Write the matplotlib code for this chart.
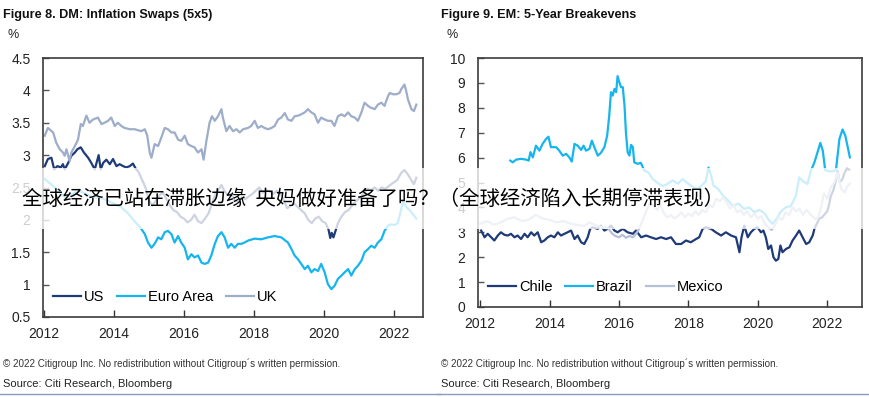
import matplotlib
matplotlib.use('Agg')
import matplotlib.pyplot as plt
from matplotlib.patches import Rectangle
from matplotlib.lines import Line2D

plt.rcParams['font.family'] = ['Liberation Sans', 'DejaVu Sans']

# ---- Figure 8: DM inflation swaps (5x5), fractional years ----
us_t = [2012.02, 2012.11, 2012.21, 2012.29, 2012.38, 2012.48, 2012.54, 2012.59, 2012.69, 2012.78,
        2012.88, 2012.95, 2013.05, 2013.14, 2013.26, 2013.35, 2013.45, 2013.56, 2013.62, 2013.69,
        2013.78, 2013.88, 2013.97, 2014.07, 2014.16, 2014.26, 2014.35, 2014.45, 2014.54, 2014.62,
        2014.70, 2014.80, 2014.90, 2015.00, 2015.10, 2015.20, 2015.30, 2015.40, 2015.50, 2015.60,
        2015.70, 2015.80, 2015.90, 2016.00, 2016.10, 2016.20, 2016.30, 2016.40, 2016.50, 2016.60,
        2016.70, 2016.80, 2016.90, 2017.00, 2017.07, 2017.15, 2017.25, 2017.35, 2017.45, 2017.55,
        2017.65, 2017.75, 2017.85, 2017.95, 2018.05, 2018.15, 2018.25, 2018.35, 2018.45, 2018.55,
        2018.65, 2018.75, 2018.85, 2018.95, 2019.05, 2019.15, 2019.25, 2019.35, 2019.45, 2019.55,
        2019.65, 2019.75, 2019.85, 2019.95, 2020.05, 2020.13, 2020.18, 2020.22, 2020.27, 2020.33,
        2020.40, 2020.50, 2020.60, 2020.70, 2020.80, 2020.90, 2021.00, 2021.07, 2021.15, 2021.25,
        2021.35, 2021.45, 2021.55, 2021.65, 2021.75, 2021.83, 2021.92, 2022.00, 2022.10, 2022.20,
        2022.30, 2022.40, 2022.50, 2022.57, 2022.64]
us_v = [2.83, 2.94, 2.96, 2.78, 2.83, 2.81, 2.86, 2.78, 2.88, 2.99,
        3.04, 3.09, 3.12, 3.04, 2.96, 2.88, 2.78, 3.00, 2.78, 2.88,
        2.93, 2.86, 2.94, 2.83, 2.86, 2.83, 2.81, 2.83, 2.87, 2.79,
        2.74, 2.62, 2.50, 2.30, 2.22, 2.30, 2.38, 2.42, 2.32, 2.22,
        2.15, 2.12, 2.05, 2.02, 1.96, 2.00, 2.08, 1.98, 1.95, 2.02,
        2.10, 2.25, 2.40, 2.48, 2.54, 2.45, 2.38, 2.40, 2.30, 2.28,
        2.35, 2.32, 2.36, 2.40, 2.45, 2.50, 2.42, 2.46, 2.44, 2.40,
        2.45, 2.42, 2.30, 2.18, 2.22, 2.25, 2.20, 2.15, 2.10, 2.00,
        1.95, 2.02, 2.05, 1.98, 1.95, 1.85, 1.72, 1.80, 1.73, 1.83,
        1.95, 2.05, 2.12, 2.15, 2.22, 2.28, 2.33, 2.36, 2.42, 2.48,
        2.46, 2.50, 2.45, 2.50, 2.48, 2.51, 2.55, 2.58, 2.62, 2.72,
        2.77, 2.70, 2.61, 2.55, 2.65]

ea_t = [2012.02, 2012.20, 2012.40, 2012.60, 2012.80, 2013.00, 2013.20, 2013.40, 2013.60, 2013.80,
        2014.00, 2014.20, 2014.40, 2014.60, 2014.78, 2014.88, 2014.97, 2015.07, 2015.16, 2015.26,
        2015.35, 2015.45, 2015.54, 2015.64, 2015.73, 2015.83, 2015.92, 2016.02, 2016.11, 2016.21,
        2016.30, 2016.40, 2016.50, 2016.59, 2016.69, 2016.78, 2016.88, 2016.97, 2017.07, 2017.16,
        2017.26, 2017.35, 2017.45, 2017.54, 2017.64, 2017.73, 2017.83, 2018.02, 2018.21, 2018.40,
        2018.59, 2018.78, 2018.97, 2019.07, 2019.16, 2019.26, 2019.35, 2019.45, 2019.54, 2019.64,
        2019.73, 2019.83, 2019.92, 2020.02, 2020.11, 2020.21, 2020.30, 2020.40, 2020.50, 2020.59,
        2020.69, 2020.78, 2020.88, 2020.97, 2021.07, 2021.16, 2021.26, 2021.35, 2021.45, 2021.54,
        2021.64, 2021.73, 2021.83, 2021.92, 2022.02, 2022.11, 2022.20, 2022.26, 2022.35, 2022.45,
        2022.55, 2022.64]
ea_v = [2.63, 2.55, 2.45, 2.35, 2.40, 2.45, 2.40, 2.35, 2.35, 2.30,
        2.25, 2.20, 2.10, 1.97, 1.86, 1.78, 1.65, 1.57, 1.63, 1.73,
        1.70, 1.81, 1.83, 1.78, 1.65, 1.75, 1.65, 1.57, 1.39, 1.47,
        1.42, 1.45, 1.34, 1.32, 1.34, 1.45, 1.63, 1.75, 1.81, 1.73,
        1.57, 1.63, 1.57, 1.63, 1.63, 1.65, 1.68, 1.71, 1.70, 1.73,
        1.75, 1.73, 1.65, 1.55, 1.45, 1.39, 1.32, 1.24, 1.29, 1.19,
        1.24, 1.21, 1.32, 1.19, 1.01, 0.93, 0.98, 1.09, 1.14, 1.19,
        1.24, 1.14, 1.24, 1.29, 1.37, 1.50, 1.55, 1.60, 1.57, 1.65,
        1.70, 1.83, 1.91, 1.93, 1.92, 1.95, 2.15, 2.28, 2.20, 2.15,
        2.08, 2.02]

uk_t = [2012.02, 2012.11, 2012.26, 2012.35, 2012.45, 2012.54, 2012.59, 2012.64, 2012.73, 2012.78,
        2012.88, 2012.97, 2013.05, 2013.11, 2013.21, 2013.30, 2013.40, 2013.54, 2013.64, 2013.73,
        2013.83, 2013.92, 2014.02, 2014.11, 2014.21, 2014.30, 2014.45, 2014.59, 2014.78, 2014.88,
        2014.95, 2015.02, 2015.07, 2015.16, 2015.26, 2015.35, 2015.45, 2015.54, 2015.64, 2015.73,
        2015.83, 2015.92, 2016.02, 2016.11, 2016.21, 2016.30, 2016.40, 2016.50, 2016.56, 2016.64,
        2016.73, 2016.80, 2016.88, 2016.97, 2017.07, 2017.11, 2017.21, 2017.30, 2017.40, 2017.50,
        2017.59, 2017.69, 2017.83, 2017.92, 2018.02, 2018.11, 2018.21, 2018.30, 2018.40, 2018.50,
        2018.59, 2018.69, 2018.78, 2018.88, 2018.97, 2019.07, 2019.16, 2019.26, 2019.35, 2019.45,
        2019.54, 2019.64, 2019.73, 2019.83, 2019.92, 2020.02, 2020.11, 2020.21, 2020.30, 2020.40,
        2020.50, 2020.59, 2020.69, 2020.78, 2020.88, 2020.97, 2021.07, 2021.16, 2021.26, 2021.35,
        2021.45, 2021.54, 2021.64, 2021.73, 2021.83, 2021.88, 2021.97, 2022.07, 2022.16, 2022.21,
        2022.30, 2022.35, 2022.40, 2022.50, 2022.57, 2022.64]
uk_v = [3.30, 3.42, 3.35, 3.19, 3.09, 3.04, 2.99, 3.09, 2.91, 3.04,
        3.14, 3.24, 3.48, 3.45, 3.61, 3.50, 3.55, 3.58, 3.48, 3.50,
        3.53, 3.58, 3.45, 3.50, 3.45, 3.42, 3.40, 3.40, 3.37, 3.40,
        3.30, 3.04, 2.96, 3.17, 3.14, 3.27, 3.42, 3.40, 3.35, 3.35,
        3.24, 3.22, 3.30, 3.17, 3.14, 3.12, 3.04, 3.09, 2.93, 3.22,
        3.50, 3.60, 3.53, 3.60, 3.71, 3.58, 3.37, 3.45, 3.37, 3.40,
        3.35, 3.40, 3.42, 3.45, 3.53, 3.42, 3.45, 3.42, 3.40, 3.42,
        3.45, 3.55, 3.58, 3.65, 3.55, 3.53, 3.60, 3.61, 3.63, 3.66,
        3.71, 3.66, 3.63, 3.50, 3.58, 3.55, 3.53, 3.53, 3.45, 3.60,
        3.63, 3.60, 3.66, 3.60, 3.58, 3.53, 3.66, 3.81, 3.76, 3.73,
        3.71, 3.78, 3.81, 3.76, 3.91, 3.96, 3.94, 3.94, 3.96, 4.02,
        4.09, 3.99, 3.86, 3.71, 3.68, 3.78]

# ---- Figure 9: EM 5-year breakevens ----
cl_t = [2012.03, 2012.13, 2012.22, 2012.32, 2012.41, 2012.51, 2012.60, 2012.70, 2012.80, 2012.89,
        2012.99, 2013.08, 2013.18, 2013.28, 2013.37, 2013.47, 2013.56, 2013.66, 2013.76, 2013.85,
        2013.95, 2014.04, 2014.14, 2014.24, 2014.33, 2014.43, 2014.52, 2014.62, 2014.72, 2014.81,
        2014.91, 2015.00, 2015.10, 2015.17, 2015.24, 2015.39, 2015.48, 2015.58, 2015.68, 2015.77,
        2015.87, 2015.96, 2016.11, 2016.25, 2016.40, 2016.49, 2016.64, 2016.78, 2016.92, 2017.07,
        2017.21, 2017.36, 2017.50, 2017.64, 2017.79, 2017.93, 2018.07, 2018.22, 2018.31, 2018.41,
        2018.50, 2018.65, 2018.79, 2018.94, 2019.08, 2019.23, 2019.37, 2019.47, 2019.53, 2019.61,
        2019.71, 2019.80, 2019.90, 2019.99, 2020.09, 2020.16, 2020.23, 2020.30, 2020.38, 2020.45,
        2020.52, 2020.59, 2020.65, 2020.71, 2020.81, 2020.91, 2021.00, 2021.10, 2021.19, 2021.29,
        2021.39, 2021.48, 2021.58, 2021.63, 2021.70, 2021.77, 2021.85, 2021.91, 2022.00, 2022.05,
        2022.10, 2022.18, 2022.25, 2022.30, 2022.36, 2022.44, 2022.50, 2022.56, 2022.63]
cl_v = [3.07, 2.80, 2.94, 2.80, 2.67, 2.87, 3.00, 2.90, 2.87, 2.94,
        2.80, 2.87, 2.73, 2.94, 2.80, 3.00, 2.87, 3.00, 2.60, 2.67,
        2.80, 2.87, 2.80, 3.00, 2.87, 2.94, 3.00, 3.07, 2.73, 2.87,
        2.60, 2.53, 2.80, 3.14, 3.20, 3.14, 3.27, 3.07, 3.14, 3.27,
        3.07, 3.00, 3.14, 3.00, 2.94, 3.07, 2.80, 2.87, 2.80, 2.73,
        2.80, 2.73, 2.80, 2.53, 2.53, 2.67, 2.60, 2.73, 2.80, 3.14,
        3.20, 3.14, 3.00, 2.87, 3.00, 2.87, 2.80, 2.20, 2.80, 3.27,
        2.80, 3.00, 3.14, 3.20, 3.00, 3.07, 2.80, 2.33, 2.47, 2.00,
        1.86, 1.93, 2.47, 2.20, 2.33, 2.40, 2.67, 2.87, 3.07, 2.80,
        2.53, 2.60, 2.87, 3.14, 3.35, 3.55, 3.60, 3.70, 3.85, 4.10,
        4.45, 4.70, 5.10, 5.45, 5.00, 5.15, 5.40, 5.55, 5.52]

br_t = [2012.87, 2012.94, 2013.04, 2013.18, 2013.32, 2013.40, 2013.45, 2013.52, 2013.61, 2013.71,
        2013.80, 2013.90, 2013.97, 2014.04, 2014.19, 2014.28, 2014.38, 2014.48, 2014.57, 2014.64,
        2014.72, 2014.81, 2014.91, 2014.98, 2015.05, 2015.15, 2015.22, 2015.29, 2015.39, 2015.48,
        2015.58, 2015.66, 2015.72, 2015.77, 2015.82, 2015.87, 2015.92, 2015.96, 2016.01, 2016.06,
        2016.11, 2016.16, 2016.20, 2016.25, 2016.30, 2016.35, 2016.40, 2016.44, 2016.54, 2016.63,
        2016.73, 2016.85, 2016.97, 2017.10, 2017.25, 2017.40, 2017.55, 2017.70, 2017.83, 2017.95,
        2018.10, 2018.27, 2018.40, 2018.50, 2018.58, 2018.65, 2018.72, 2018.85, 2018.99, 2019.13,
        2019.27, 2019.45, 2019.60, 2019.75, 2019.90, 2020.05, 2020.20, 2020.33, 2020.42, 2020.55,
        2020.65, 2020.81, 2020.95, 2021.10, 2021.19, 2021.30, 2021.43, 2021.53, 2021.63, 2021.72,
        2021.80, 2021.87, 2021.94, 2022.05, 2022.15, 2022.25, 2022.35, 2022.44, 2022.52, 2022.58,
        2022.65]
br_v = [5.88, 5.81, 5.92, 5.95, 5.92, 5.88, 6.22, 6.01, 6.48, 6.28,
        6.55, 6.75, 6.84, 6.42, 6.42, 6.28, 6.08, 6.15, 6.01, 5.84,
        6.55, 6.48, 6.31, 6.48, 6.28, 6.35, 6.68, 6.42, 6.08, 6.19,
        6.42, 6.88, 7.69, 8.63, 8.49, 8.76, 8.63, 9.27, 9.03, 8.83,
        8.83, 8.09, 7.02, 6.22, 6.08, 6.51, 6.42, 5.81, 5.75, 5.79,
        5.48, 5.40, 5.14, 5.00, 4.85, 4.95, 5.08, 4.95, 5.14, 5.00,
        4.85, 4.74, 4.90, 5.05, 5.60, 5.30, 4.88, 4.75, 4.48, 4.30,
        4.07, 4.15, 3.94, 4.00, 3.81, 3.90, 3.75, 3.47, 3.34, 3.55,
        3.81, 4.01, 4.05, 4.48, 5.21, 5.05, 4.94, 5.48, 5.81, 6.22,
        6.59, 6.28, 5.50, 5.45, 5.45, 5.50, 6.75, 7.13, 6.88, 6.48,
        6.01]

mx_t = [2012.00, 2012.20, 2012.40, 2012.60, 2012.80, 2013.00, 2013.20, 2013.40, 2013.60, 2013.80,
        2014.00, 2014.20, 2014.40, 2014.60, 2014.80, 2015.00, 2015.15, 2015.30, 2015.50, 2015.70,
        2015.80, 2015.90, 2016.00, 2016.10, 2016.20, 2016.30, 2016.40, 2016.50, 2016.60, 2016.70,
        2016.80, 2016.90, 2017.00, 2017.10, 2017.20, 2017.30, 2017.40, 2017.50, 2017.60, 2017.70,
        2017.80, 2017.90, 2018.00, 2018.10, 2018.20, 2018.30, 2018.40, 2018.50, 2018.60, 2018.70,
        2018.80, 2018.90, 2019.00, 2019.10, 2019.20, 2019.30, 2019.40, 2019.50, 2019.60, 2019.70,
        2019.80, 2019.90, 2020.00, 2020.10, 2020.20, 2020.30, 2020.40, 2020.50, 2020.60, 2020.70,
        2020.80, 2020.90, 2021.00, 2021.10, 2021.20, 2021.30, 2021.40, 2021.50, 2021.60, 2021.70,
        2021.80, 2021.90, 2022.00, 2022.10, 2022.20, 2022.30, 2022.40, 2022.50, 2022.58, 2022.65]
mx_v = [3.35, 3.45, 3.30, 3.40, 3.55, 3.60, 3.45, 3.50, 3.70, 3.55,
        3.50, 3.40, 3.45, 3.35, 3.30, 3.25, 3.40, 3.30, 3.20, 3.15,
        2.95, 2.85, 2.80, 2.90, 2.78, 2.85, 2.80, 2.95, 3.20, 3.55,
        3.90, 4.20, 4.05, 3.90, 4.10, 3.75, 3.60, 3.70, 3.55, 3.65,
        3.80, 3.60, 3.75, 3.65, 3.85, 3.70, 3.90, 3.80, 4.10, 4.00,
        4.35, 4.25, 4.40, 4.20, 3.95, 4.10, 3.80, 3.90, 3.70, 3.85,
        3.60, 3.75, 3.55, 3.65, 3.35, 3.20, 3.10, 3.30, 3.60, 3.50,
        3.80, 3.70, 4.00, 3.85, 3.95, 3.70, 3.90, 3.75, 3.60, 3.50,
        3.85, 4.55, 4.35, 4.80, 5.00, 5.40, 4.75, 4.60, 4.85, 4.95]

years = [2012, 2014, 2016, 2018, 2020, 2022]
dm_ticks = [0.5, 1, 1.5, 2, 2.5, 3, 3.5, 4, 4.5]
dm_labels = ['0.5', '1', '1.5', '2', '2.5', '3', '3.5', '4', '4.5']
em_ticks = [0, 1, 2, 3, 4, 5, 6, 7, 8, 9, 10]

navy = '#1f3b77'
cyan = '#16b5ee'
uk_col = '#9dadca'
mx_col = '#b6c0d8'

fig = plt.figure(figsize=(8.69, 3.97), dpi=100)
ax1 = fig.add_axes([43 / 869, 1 - 317 / 397, 380 / 869, 259 / 397])
ax2 = fig.add_axes([478 / 869, 1 - 307 / 397, 384 / 869, 249 / 397])

ax1.plot(us_t, us_v, color=navy, lw=1.6, label='US')
ax1.plot(ea_t, ea_v, color=cyan, lw=1.6, label='Euro Area')
ax1.plot(uk_t, uk_v, color=uk_col, lw=1.6, label='UK')
ax1.set_xlim(2011.97, 2022.83)
ax1.set_ylim(0.5, 4.5)
ax1.set_yticks(dm_ticks)
ax1.set_yticklabels(dm_labels)

ax2.plot(cl_t, cl_v, color=navy, lw=1.6, label='Chile')
ax2.plot(br_t, br_v, color=cyan, lw=1.6, label='Brazil')
ax2.plot(mx_t, mx_v, color=mx_col, lw=1.6, label='Mexico')
ax2.set_xlim(2011.94, 2023.0)
ax2.set_ylim(0, 10)
ax2.set_yticks(em_ticks)
ax2.set_yticklabels([str(t) for t in em_ticks])

for ax in (ax1, ax2):
    ax.set_xticks(years)
    ax.set_xticklabels([str(y) for y in years])
    ax.tick_params(axis='x', direction='in', length=5, width=1, pad=7,
                   labelsize=10, colors='#333333', labelcolor='#222222')
    ax.tick_params(axis='y', direction='in', length=4, width=1, pad=9,
                   labelsize=10, colors='#555555', labelcolor='#222222')
    for s in ax.spines.values():
        s.set_color('#3c3c3c')
        s.set_linewidth(1.2)
    ax.legend(loc='lower left', bbox_to_anchor=(0.0, 0.01), ncol=3, frameon=False,
              fontsize=10.5, handlelength=1.9, handletextpad=0.2, columnspacing=0.9,
              borderaxespad=0.3)

# titles, unit labels and footers
for x0, title in [(3, 'Figure 8. DM: Inflation Swaps (5x5)'),
                  (441, 'Figure 9. EM: 5-Year Breakevens')]:
    fig.text(x0 / 869, 1 - 15 / 397, title, fontsize=9.1, fontweight='bold',
             color='#111111', va='center', ha='left')
    fig.text((x0 + 5) / 869, 1 - 35 / 397, '%', fontsize=9, color='#222222',
             va='center', ha='left')
    fig.text(x0 / 869, 1 - 364 / 397,
             '\u00a9 2022 Citigroup Inc. No redistribution without Citigroup\u00b4s written permission.',
             fontsize=7.1, color='#333333', va='center', ha='left')
    fig.text(x0 / 869, 1 - 384 / 397, 'Source: Citi Research, Bloomberg',
             fontsize=8.0, color='#222222', va='center', ha='left')

fig.add_artist(Line2D([0, 440 / 869], [1 - 394 / 397] * 2, transform=fig.transFigure,
                      color='#8b9cbd', lw=1))
fig.add_artist(Line2D([437 / 869, 1], [1 - 394 / 397] * 2, transform=fig.transFigure,
                      color='#8b9cbd', lw=1))

# translucent banner with the Chinese caption
fig.add_artist(Rectangle((0, 1 - 229 / 397), 1, 61 / 397, transform=fig.transFigure,
                         facecolor='white', alpha=0.78, edgecolor='none', zorder=10))
fig.text(22 / 869, 1 - 199 / 397,
         '全球经济已站在滞胀边缘  央妈做好准备了吗？（全球经济陷入长期停滞表现）',
         fontsize=14.7, color='#000000', va='center', ha='left', zorder=11,
         family=['Noto Sans CJK SC', 'DejaVu Sans'])

fig.savefig('out.png', dpi=100)
